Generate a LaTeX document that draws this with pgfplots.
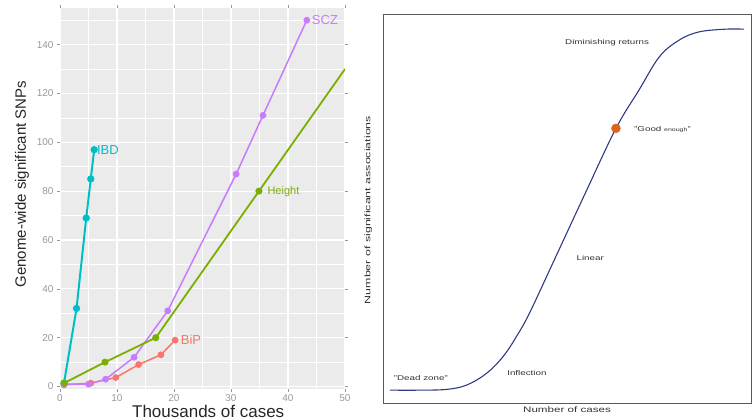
\documentclass[border=0pt]{standalone}
\usepackage{pgfplots}
\pgfplotsset{compat=1.18}
\usepackage{fontspec}
\setmainfont{Liberation Sans}
\usepackage{graphicx}
\definecolor{ggbg}{HTML}{EBEBEB}
\definecolor{cIBD}{HTML}{00BFC4}
\definecolor{cSCZ}{HTML}{C77CFF}
\definecolor{cHt}{HTML}{7CAE00}
\definecolor{cBiP}{HTML}{F8766D}
\definecolor{navy}{HTML}{2E3A86}
\definecolor{dotor}{HTML}{D9671E}
\newcommand{\st}[1]{\scalebox{1.4}[1]{#1}}
\begin{document}
\begin{tikzpicture}
\path[use as bounding box] (0pt,0pt) rectangle (752pt,420pt);
\begin{axis}[at={(60pt,31pt)}, anchor=south west, scale only axis,
  width=285pt, height=381pt,
  xmin=0, xmax=50, ymin=-1, ymax=155,
  axis background/.style={fill=ggbg},
  axis line style={draw=none},
  grid=both,
  major grid style={white, line width=1.1pt},
  minor grid style={white, line width=0.5pt},
  xtick={0,10,...,50}, ytick={0,20,...,140},
  minor xtick={5,15,...,45}, minor ytick={10,30,...,150},
  tick align=outside, major tick length=3pt, minor tick length=0pt,
  tick style={gray!80, line width=0.6pt},
  ticklabel style={font=\fontsize{10}{10}\selectfont, text=gray!80},
  xticklabel style={yshift=1pt},
  /pgf/number format/assume math mode=true,
  xlabel={Thousands of cases},
  ylabel={Genome-wide significant SNPs},
  every axis x label/.style={at={(axis description cs:0.52,-0.058)}, anchor=center, font=\fontsize{17}{17}\selectfont, text=black!85},
  every axis y label/.style={at={(axis description cs:-0.133,0.538)}, rotate=90, anchor=center, font=\fontsize{15}{15}\selectfont, text=black!85},
  clip=true]
\addplot[cIBD, line width=2pt, mark=*, mark size=2.6pt] coordinates {
 (0.7,1.4) (2.9,32) (4.6,69) (5.4,85) (6.0,97)};
\addplot[cBiP, line width=1.5pt, mark=*, mark size=2.6pt] coordinates {
 (0.7,0.7) (5.4,1.4) (9.8,3.7) (13.8,9) (17.7,13) (20.2,19)};
\addplot[cSCZ, line width=1.5pt, mark=*, mark size=2.6pt] coordinates {
 (0.7,1.0) (5.0,1.0) (8.0,3) (13.0,12) (18.9,31) (30.9,87) (35.6,111) (43.3,150)};
\addplot[cHt, line width=1.8pt, mark=*, mark size=2.6pt, mark indices={1,2,3,4}] coordinates {
 (0.7,1.4) (7.9,10) (16.8,20) (34.9,80) (50,130)};
\node[anchor=west, text=cIBD, font=\fontsize{13}{13}\selectfont, inner sep=1pt] at (axis cs:6.3,97) {IBD};
\node[anchor=west, text=cSCZ, font=\fontsize{13}{13}\selectfont, inner sep=1pt] at (axis cs:44.0,150) {SCZ};
\node[anchor=west, text=cHt, font=\fontsize{11}{11}\selectfont, inner sep=1pt] at (axis cs:36.2,80) {Height};
\node[anchor=west, text=cBiP, font=\fontsize{13}{13}\selectfont, inner sep=1pt] at (axis cs:21.0,19) {BiP};
\end{axis}
\begin{axis}[at={(383pt,17pt)}, anchor=south west, scale only axis,
  width=368pt, height=389pt,
  xmin=0, xmax=100, ymin=0, ymax=100,
  xtick=\empty, ytick=\empty,
  axis line style={draw=gray!70!black, line width=0.9pt},
  xlabel={\scalebox{1.45}[1]{Number of cases}},
  ylabel={\scalebox{1.55}[1]{Number of significant associations}},
  every axis x label/.style={at={(axis description cs:0.5,-0.018)}, anchor=center, font=\fontsize{8}{8}\selectfont, text=black!80},
  every axis y label/.style={at={(axis description cs:-0.04,0.496)}, rotate=90, anchor=center, font=\fontsize{8}{8}\selectfont, text=black!80},
  clip=false]
\addplot[navy, line width=1.1pt, smooth, tension=0.6] coordinates {
 (1.9,3.3) (10,3.3) (17.3,3.5) (22.7,4.6) (28.1,7.6) (32.6,11.9) (36.2,17.0)
 (39.8,23.1) (46.9,37.5) (55.0,54.0) (63.3,70.6) (69.6,80.5) (75.1,89.0)
 (80.5,93.3) (85.9,95.4) (93.1,96.1) (98.1,96.1)};
\addplot[only marks, mark=*, mark size=4.5pt, dotor] coordinates {(63.3,70.6)};
\begin{scope}[font=\fontsize{7}{7}\selectfont, text=black!80]
\node[anchor=west] at (axis cs:2.0,6.4) {\st{"Dead zone"}};
\node at (axis cs:39.1,7.7) {\st{Inflection}};
\node at (axis cs:56.3,37.3) {\st{Linear}};
\node[anchor=west] at (axis cs:67.3,70.4) {\st{"Good {\fontsize{5}{5}\selectfont enough}"}};
\node at (axis cs:60.9,92.5) {\st{Diminishing returns}};
\end{scope}
\end{axis}
\end{tikzpicture}
\end{document}
